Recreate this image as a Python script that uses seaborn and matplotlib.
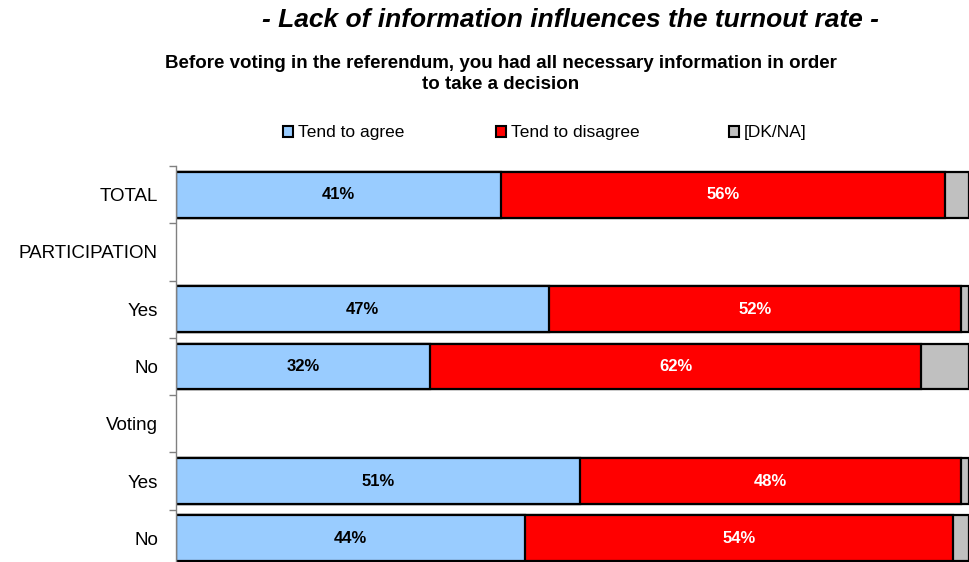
import numpy as np
import pandas as pd
import matplotlib
matplotlib.use("Agg")
import matplotlib.pyplot as plt
import matplotlib.patches as mpatches
import seaborn as sns

categories = ["TOTAL", "PARTICIPATION", "Yes", "No", "Voting", "Yes", "No"]
agree = [41, np.nan, 47, 32, np.nan, 51, 44]
disagree = [56, np.nan, 52, 62, np.nan, 48, 54]
dkna = [3, np.nan, 1, 6, np.nan, 1, 2]
series_names = ["Tend to agree", "Tend to disagree", "[DK/NA]"]
colors = ["#99CCFF", "#FF0000", "#C0C0C0"]

sns.set_theme(style="white")
plt.rcParams["font.family"] = ["Liberation Sans", "DejaVu Sans"]
plt.rcParams["text.color"] = "black"

keys = [f"r{i}" for i in range(len(categories))]
df = pd.DataFrame({"key": keys, "agree": agree, "disagree": disagree, "dkna": dkna})
df["c1"] = df["agree"]
df["c2"] = df["agree"] + df["disagree"]
df["c3"] = df["agree"] + df["disagree"] + df["dkna"]

fig = plt.figure(figsize=(9.69, 5.62), dpi=100)
W, H = 969, 562
left, right, top, bottom = 176, 969, 166, 567
ax = fig.add_axes([left / W, 1 - bottom / H, (right - left) / W, (bottom - top) / H])

for col, c in zip(["c3", "c2", "c1"], colors[::-1]):
    sns.barplot(data=df, x=col, y="key", order=keys, orient="h", color=c,
                saturation=1, width=0.8, edgecolor="black", linewidth=1.6,
                ax=ax, errorbar=None)

ax.set_xlim(0, 100)
ax.set_ylim(len(categories) - 0.5, -0.5)
ax.set_xlabel("")
ax.set_ylabel("")
ax.set_xticks([])
ax.set_yticks(range(len(categories)))
ax.set_yticklabels(categories, fontsize=13.5, color="black")
ax.set_yticks(np.arange(-0.5, len(categories), 1), minor=True)
ax.tick_params(axis="y", which="major", length=0, pad=13)
ax.tick_params(axis="y", which="minor", length=5, width=1, color="#808080", left=True)
for s in ["top", "right", "bottom"]:
    ax.spines[s].set_visible(False)
ax.spines["left"].set_color("#808080")
ax.spines["left"].set_linewidth(1)

# value labels
for i in range(len(categories)):
    a, d = agree[i], disagree[i]
    if np.isnan(a):
        continue
    ax.text(a / 2, i, f"{a:.0f}%", ha="center", va="center", fontsize=12,
            fontweight="bold", color="black")
    ax.text(a + d / 2, i, f"{d:.0f}%", ha="center", va="center", fontsize=12,
            fontweight="bold", color="white")

# titles
fig.text(570 / W, 1 - 20 / H, "- Lack of information influences the turnout rate -",
         ha="center", va="center", fontsize=19, fontweight="bold", style="italic",
         color="black")
fig.text(501 / W, 1 - 74 / H,
         "Before voting in the referendum, you had all necessary information in order\nto take a decision",
         ha="center", va="center", fontsize=13.5, fontweight="bold", linespacing=1.3,
         color="black")

# legend
leg_x = [283, 496, 729]
for name, c, x in zip(series_names, colors, leg_x):
    h = mpatches.Patch(facecolor=c, edgecolor="black", linewidth=1.5)
    fig.legend(handles=[h], labels=[name], loc="center left",
               bbox_to_anchor=(x / W, 1 - 133 / H), frameon=False, fontsize=12.5,
               handlelength=0.6, handleheight=0.6, handletextpad=0.25,
               borderpad=0, borderaxespad=0)

fig.savefig("out.png", dpi=100)
